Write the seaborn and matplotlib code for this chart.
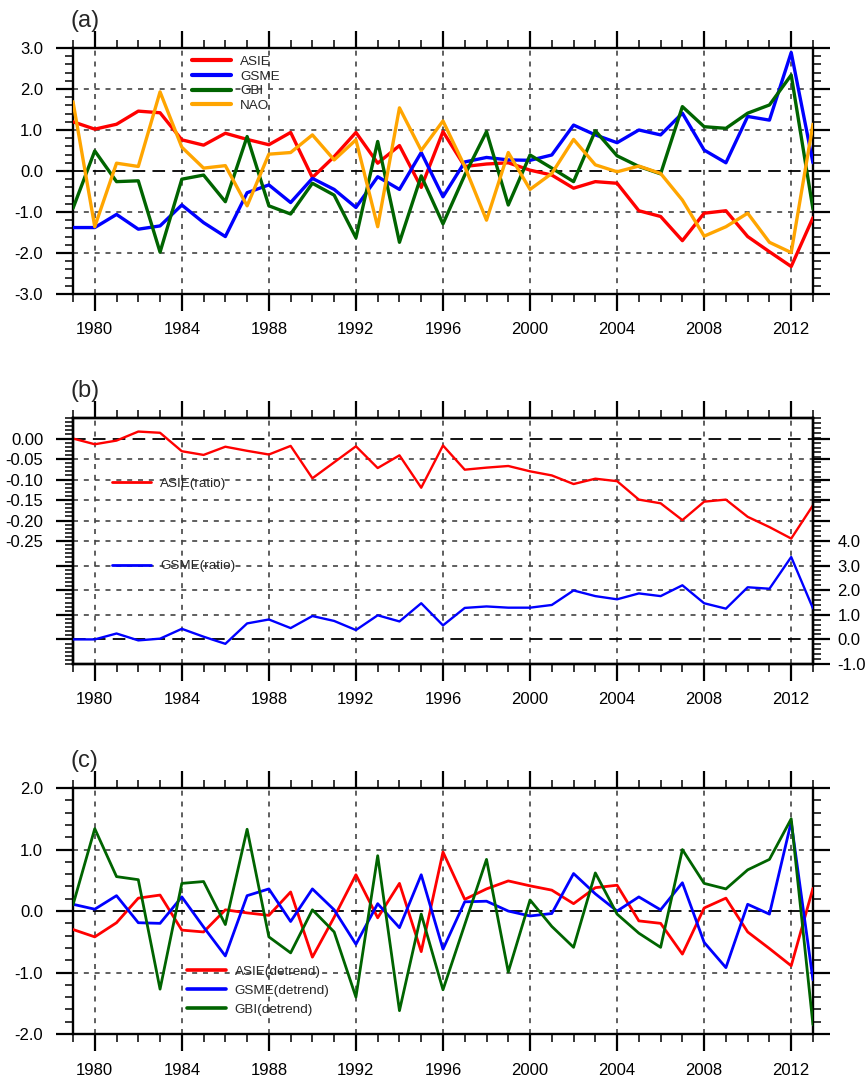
import matplotlib
matplotlib.use('Agg')
import matplotlib.pyplot as plt
import seaborn as sns
import pandas as pd
from matplotlib.ticker import MultipleLocator, FixedLocator, FormatStrFormatter

years = list(range(1979, 2014))

# panel (a): standardized indices
asie = [1.20, 1.02, 1.14, 1.46, 1.42, 0.76, 0.63, 0.92, 0.77, 0.64, 0.94, -0.16,
        0.35, 0.94, 0.19, 0.62, -0.40, 0.96, 0.11, 0.17, 0.20, 0.02, -0.10, -0.42,
        -0.26, -0.30, -0.97, -1.11, -1.70, -1.03, -0.97, -1.60, -1.97, -2.33, -1.14]
gsme = [-1.38, -1.38, -1.06, -1.42, -1.34, -0.83, -1.26, -1.60, -0.53, -0.34, -0.77, -0.18,
        -0.45, -0.89, -0.14, -0.45, 0.45, -0.63, 0.22, 0.33, 0.27, 0.26, 0.39, 1.12,
        0.88, 0.69, 1.00, 0.88, 1.41, 0.51, 0.20, 1.33, 1.24, 2.89, 0.20]
gbi = [-0.91, 0.49, -0.26, -0.24, -1.98, -0.20, -0.10, -0.75, 0.84, -0.85, -1.05, -0.30,
       -0.59, -1.63, 0.72, -1.74, -0.12, -1.29, -0.10, 0.96, -0.83, 0.39, 0.07, -0.26,
       0.98, 0.37, 0.11, -0.07, 1.57, 1.08, 1.04, 1.41, 1.61, 2.34, -0.93]
nao = [1.69, -1.36, 0.19, 0.11, 1.93, 0.58, 0.07, 0.13, -0.85, 0.41, 0.45, 0.88,
       0.27, 0.76, -1.36, 1.54, 0.50, 1.22, 0.11, -1.20, 0.45, -0.45, -0.06, 0.77,
       0.15, -0.02, 0.12, -0.06, -0.71, -1.59, -1.36, -1.03, -1.74, -1.99, 1.14]

# panel (b): ratios
asie_ratio = [0.000, -0.014, -0.005, 0.017, 0.014, -0.031, -0.040, -0.020, -0.030, -0.039,
              -0.018, -0.097, -0.058, -0.019, -0.072, -0.041, -0.120, -0.017, -0.076, -0.071,
              -0.067, -0.080, -0.090, -0.111, -0.098, -0.104, -0.149, -0.158, -0.199, -0.154,
              -0.149, -0.191, -0.216, -0.244, -0.163]
gsme_ratio = [0.00, 0.00, 0.24, -0.04, 0.03, 0.43, 0.11, -0.18, 0.65, 0.81, 0.46, 0.95,
              0.75, 0.38, 0.98, 0.73, 1.47, 0.57, 1.28, 1.34, 1.29, 1.29, 1.40, 1.99,
              1.76, 1.63, 1.87, 1.76, 2.20, 1.47, 1.25, 2.12, 2.06, 3.35, 1.26]

# panel (c): detrended
asie_dt = [-0.30, -0.42, -0.19, 0.21, 0.26, -0.31, -0.34, 0.02, -0.03, -0.07, 0.31, -0.75,
           -0.10, 0.59, -0.11, 0.45, -0.66, 0.96, 0.19, 0.36, 0.49, 0.41, 0.34, 0.12,
           0.38, 0.42, -0.16, -0.20, -0.70, 0.05, 0.21, -0.34, -0.61, -0.89, 0.37]
gsme_dt = [0.11, 0.03, 0.25, -0.19, -0.20, 0.23, -0.26, -0.73, 0.25, 0.36, -0.17, 0.36,
           0.02, -0.54, 0.12, -0.27, 0.59, -0.62, 0.15, 0.16, 0.00, -0.08, -0.04, 0.61,
           0.28, 0.00, 0.23, 0.02, 0.46, -0.51, -0.92, 0.11, -0.05, 1.45, -1.12]
gbi_dt = [0.10, 1.34, 0.56, 0.51, -1.27, 0.45, 0.48, -0.22, 1.33, -0.42, -0.68, 0.02,
          -0.34, -1.40, 0.90, -1.62, -0.05, -1.28, -0.22, 0.84, -0.99, 0.18, -0.25, -0.59,
          0.62, -0.05, -0.36, -0.59, 1.00, 0.45, 0.36, 0.67, 0.84, 1.50, -1.85]

sns.set_style('ticks')
plt.rcParams['font.family'] = ['Liberation Sans', 'DejaVu Sans']

GRID = '#444444'
SHORT = (0, (3, 3.5))
LONG = (0, (7, 4))


def style_axes(ax, ymin, ymax, ymajor, yminor, fmt):
    ax.set_xlim(1979, 2013)
    ax.set_ylim(ymin, ymax)
    ax.xaxis.set_major_locator(MultipleLocator(4))
    ax.xaxis.set_minor_locator(MultipleLocator(1))
    if ymajor is not None:
        ax.yaxis.set_major_locator(MultipleLocator(ymajor))
        ax.yaxis.set_minor_locator(MultipleLocator(yminor))
        ax.yaxis.set_major_formatter(FormatStrFormatter(fmt))
    ax.tick_params(which='both', direction='out', top=True, right=True,
                   labeltop=False, labelright=False, width=1.6, labelsize=12,
                   color='black', labelcolor='black')
    ax.tick_params(which='major', length=12.5)
    ax.tick_params(which='minor', length=6, width=1.1)
    ax.tick_params(axis='x', pad=8)
    ax.tick_params(axis='y', pad=9)
    for s in ax.spines.values():
        s.set_visible(True)
        s.set_linewidth(1.7)
        s.set_color('black')
    ax.grid(axis='x', which='major', color=GRID, linestyle=SHORT, linewidth=1.2)
    ax.set_xlabel('')
    ax.set_ylabel('')


def make_legend(ax, x, y, loc, spacing, lw):
    h, l = ax.get_legend_handles_labels()
    leg = ax.legend(h, l, loc=loc, bbox_to_anchor=(x, y), frameon=False,
                    fontsize=9.7, handlelength=2.9, handletextpad=0.65,
                    borderpad=0, borderaxespad=0, labelspacing=spacing)
    for line in leg.get_lines():
        line.set_linewidth(lw)
    return leg


fig = plt.figure(figsize=(8.68, 10.76), dpi=100)
ax_a = fig.add_axes([0.0841, 0.7268, 0.8525, 0.2286])
ax_b = fig.add_axes([0.0841, 0.3829, 0.8525, 0.2286])
ax_c = fig.add_axes([0.0841, 0.0390, 0.8525, 0.2286])

# ---------- (a)
df_a = pd.DataFrame({'year': years * 4,
                     'value': asie + gsme + gbi + nao,
                     'series': ['ASIE'] * 35 + ['GSME'] * 35 + ['GBI'] * 35 + ['NAO'] * 35})
pal_a = {'ASIE': 'red', 'GSME': 'blue', 'GBI': '#006400', 'NAO': '#FFA500'}
sns.lineplot(data=df_a, x='year', y='value', hue='series', palette=pal_a,
             hue_order=['ASIE', 'GSME', 'GBI', 'NAO'], linewidth=2.4, ax=ax_a, zorder=3)
style_axes(ax_a, -3, 3, 1.0, 0.2, '%.1f')
for yv in [-2, -1, 1, 2]:
    ax_a.axhline(yv, color=GRID, linestyle=SHORT, linewidth=1.2, zorder=1)
ax_a.axhline(0, color='black', linestyle=LONG, linewidth=1.3, zorder=1)
make_legend(ax_a, 0.161, 0.97, 'upper left', 0.17, 3)
ax_a.text(-0.004, 1.085, '(a)', transform=ax_a.transAxes, fontsize=17, va='baseline')

# ---------- (b)
ax_b2 = ax_b.twinx()
sns.lineplot(x=years, y=asie_ratio, color='red', linewidth=1.7, ax=ax_b,
             label='ASIE(ratio)', zorder=3)
sns.lineplot(x=years, y=gsme_ratio, color='blue', linewidth=1.7, ax=ax_b2,
             label='GSME(ratio)', zorder=3)
style_axes(ax_b, -0.55, 0.05, None, None, None)
left_major = [0.0, -0.05, -0.10, -0.15, -0.20, -0.25, -0.31, -0.37, -0.43, -0.49]
left_labels = ['0.00', '-0.05', '-0.10', '-0.15', '-0.20', '-0.25', '', '', '', '']
ax_b.yaxis.set_major_locator(FixedLocator(left_major))
ax_b.set_yticklabels(left_labels)
ax_b.yaxis.set_minor_locator(MultipleLocator(0.01))
ax_b.tick_params(axis='y', which='both', right=False)
ax_b2.set_ylim(-1, 9)
right_major = [-1, 0, 1, 2, 3, 4, 4.833, 5.667, 6.5, 7.333, 8.167]
right_labels = ['-1.0', '0.0', '1.0', '2.0', '3.0', '4.0', '', '', '', '', '']
ax_b2.yaxis.set_major_locator(FixedLocator(right_major))
ax_b2.set_yticklabels(right_labels)
ax_b2.yaxis.set_minor_locator(MultipleLocator(0.2))
ax_b2.tick_params(axis='y', which='both', direction='out', width=1.6, labelsize=12, pad=5,
                  color='black', labelcolor='black')
ax_b2.tick_params(axis='y', which='major', length=12.5)
ax_b2.tick_params(axis='y', which='minor', length=6, width=1.1)
ax_b2.set_ylabel('')
for s in ax_b2.spines.values():
    s.set_linewidth(1.7)
    s.set_color('black')
for yv in [-0.05, -0.10, -0.15, -0.20, -0.25]:
    ax_b.axhline(yv, color=GRID, linestyle=SHORT, linewidth=1.2, zorder=1)
ax_b.axhline(0, color='black', linestyle=LONG, linewidth=1.3, zorder=1)
for yv in [1, 2, 3]:
    ax_b2.axhline(yv, color=GRID, linestyle=SHORT, linewidth=1.2, zorder=1)
ax_b2.axhline(0, color='black', linestyle=LONG, linewidth=1.3, zorder=1)
make_legend(ax_b, 0.053, 0.732, 'center left', 0.05, 2)
make_legend(ax_b2, 0.053, 0.398, 'center left', 0.05, 2)
ax_b.text(-0.004, 1.085, '(b)', transform=ax_b.transAxes, fontsize=17, va='baseline')

# ---------- (c)
df_c = pd.DataFrame({'year': years * 3,
                     'value': asie_dt + gsme_dt + gbi_dt,
                     'series': ['ASIE(detrend)'] * 35 + ['GSME(detrend)'] * 35 + ['GBI(detrend)'] * 35})
pal_c = {'ASIE(detrend)': 'red', 'GSME(detrend)': 'blue', 'GBI(detrend)': '#006400'}
sns.lineplot(data=df_c, x='year', y='value', hue='series', palette=pal_c,
             hue_order=['ASIE(detrend)', 'GSME(detrend)', 'GBI(detrend)'],
             linewidth=2.0, ax=ax_c, zorder=3)
style_axes(ax_c, -2, 2, 1.0, 0.2, '%.1f')
for yv in [-1, 1]:
    ax_c.axhline(yv, color=GRID, linestyle=SHORT, linewidth=1.2, zorder=1)
ax_c.axhline(0, color='black', linestyle=LONG, linewidth=1.3, zorder=1)
make_legend(ax_c, 0.154, 0.28, 'upper left', 0.5, 2.6)
ax_c.text(-0.004, 1.085, '(c)', transform=ax_c.transAxes, fontsize=17, va='baseline')

fig.savefig('out.png', dpi=100)
